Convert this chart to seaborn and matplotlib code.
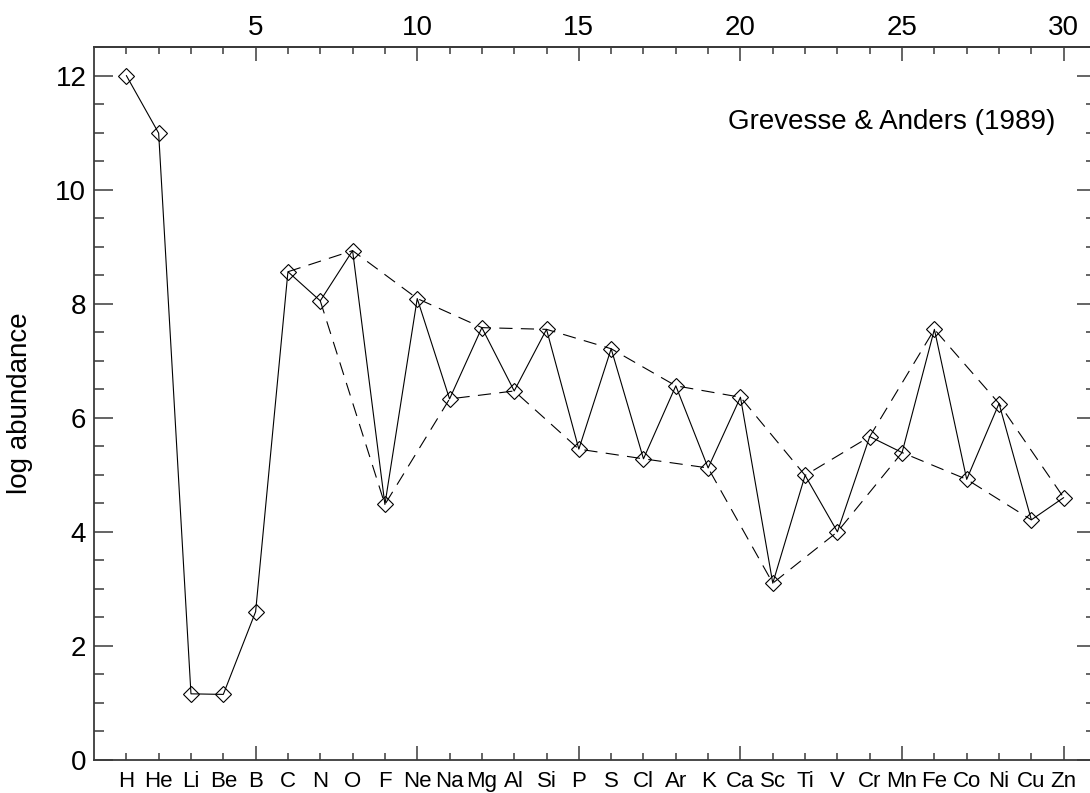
import numpy as np
import pandas as pd
import matplotlib
matplotlib.use("Agg")
import matplotlib.pyplot as plt
import seaborn as sns

# ---- data ----
elements = ["H", "He", "Li", "Be", "B", "C", "N", "O", "F", "Ne",
            "Na", "Mg", "Al", "Si", "P", "S", "Cl", "Ar", "K", "Ca",
            "Sc", "Ti", "V", "Cr", "Mn", "Fe", "Co", "Ni", "Cu", "Zn"]
atomic_number = list(range(1, 31))
log_abundance = [12.00, 10.99, 1.16, 1.15, 2.60, 8.56, 8.05, 8.93, 4.48, 8.09,
                 6.33, 7.58, 6.47, 7.55, 5.45, 7.21, 5.28, 6.56, 5.12, 6.36,
                 3.10, 4.99, 4.00, 5.67, 5.39, 7.55, 4.92, 6.25, 4.21, 4.60]
even_from = 6   # dashed envelope for even Z starts at C
odd_from = 7    # dashed envelope for odd Z starts at N
top_ticks = [5, 10, 15, 20, 25, 30]
y_ticks = [0, 2, 4, 6, 8, 10, 12]
title_text = "Grevesse & Anders (1989)"
y_label = "log abundance"

df = pd.DataFrame({"Z": atomic_number, "abund": log_abundance, "el": elements})
even = df[(df.Z >= even_from) & (df.Z % 2 == 0)]
odd = df[(df.Z >= odd_from) & (df.Z % 2 == 1)]

sns.set_style("white")
plt.rcParams["font.family"] = ["Liberation Sans", "DejaVu Sans"]
plt.rcParams["lines.scale_dashes"] = False
plt.rcParams["text.color"] = "black"
plt.rcParams["axes.labelcolor"] = "black"

W, H = 1090, 793
fig = plt.figure(figsize=(W / 100, H / 100), dpi=100)
ax = fig.add_axes([94 / W, 1 - 760 / H, 1002 / W, 713 / H])

dash = (0, (9.5, 6.0))
sns.lineplot(data=even, x="Z", y="abund", ax=ax, color="black", lw=0.8,
             linestyle=dash, sort=True)
sns.lineplot(data=odd, x="Z", y="abund", ax=ax, color="black", lw=0.8,
             linestyle=dash, sort=True)
sns.lineplot(data=df, x="Z", y="abund", ax=ax, color="black", lw=0.8,
             marker="D", markersize=8.0, markerfacecolor="none",
             markeredgecolor="black", markeredgewidth=0.8, sort=True)

ax.set_xlim(0, 31)
ax.set_ylim(0, 12.5)

spine_col = "#3a3a3a"
for s in ax.spines.values():
    s.set_color(spine_col)
    s.set_linewidth(1.3)

# bottom: element labels
major_z = top_ticks
minor_z = [z for z in atomic_number if z not in major_z]
ax.set_xticks(major_z)
ax.set_xticklabels([elements[z - 1] for z in major_z])
ax.set_xticks(minor_z, minor=True)
ax.set_xticklabels([elements[z - 1] for z in minor_z], minor=True)
ax.tick_params(axis="x", which="both", direction="in", bottom=True, top=False,
               labelsize=16, pad=8, color=spine_col, labelcolor="black",
               width=1.1)
ax.tick_params(axis="x", which="major", length=10)
ax.tick_params(axis="x", which="minor", length=5)

# y axis
ax.set_yticks(y_ticks)
ax.set_yticks(np.arange(0, 12.51, 0.5), minor=True)
ax.tick_params(axis="y", which="both", direction="in", left=True, right=True,
               labelsize=20, pad=5.5, color=spine_col, labelcolor="black",
               width=1.1)
ax.tick_params(axis="y", which="major", length=13.7)
ax.tick_params(axis="y", which="minor", length=7.2)

ax.set_xlabel("")
ax.set_ylabel(y_label, fontsize=20, color="black")
ax.yaxis.set_label_coords(-0.061, 0.5)

# top: atomic number
sec = ax.secondary_xaxis("top")
sec.set_xticks(top_ticks)
sec.set_xticks(atomic_number, minor=True)
sec.tick_params(axis="x", which="both", direction="in", labelsize=20, pad=4,
                color=spine_col, labelcolor="black", width=1.1)
sec.tick_params(axis="x", which="major", length=10)
sec.tick_params(axis="x", which="minor", length=5)
for s in sec.spines.values():
    s.set_color(spine_col)
    s.set_linewidth(1.3)

ax.text(29.74, 11.06, title_text, ha="right", va="baseline", fontsize=20,
        color="black")

fig.savefig("out.png", dpi=100)
